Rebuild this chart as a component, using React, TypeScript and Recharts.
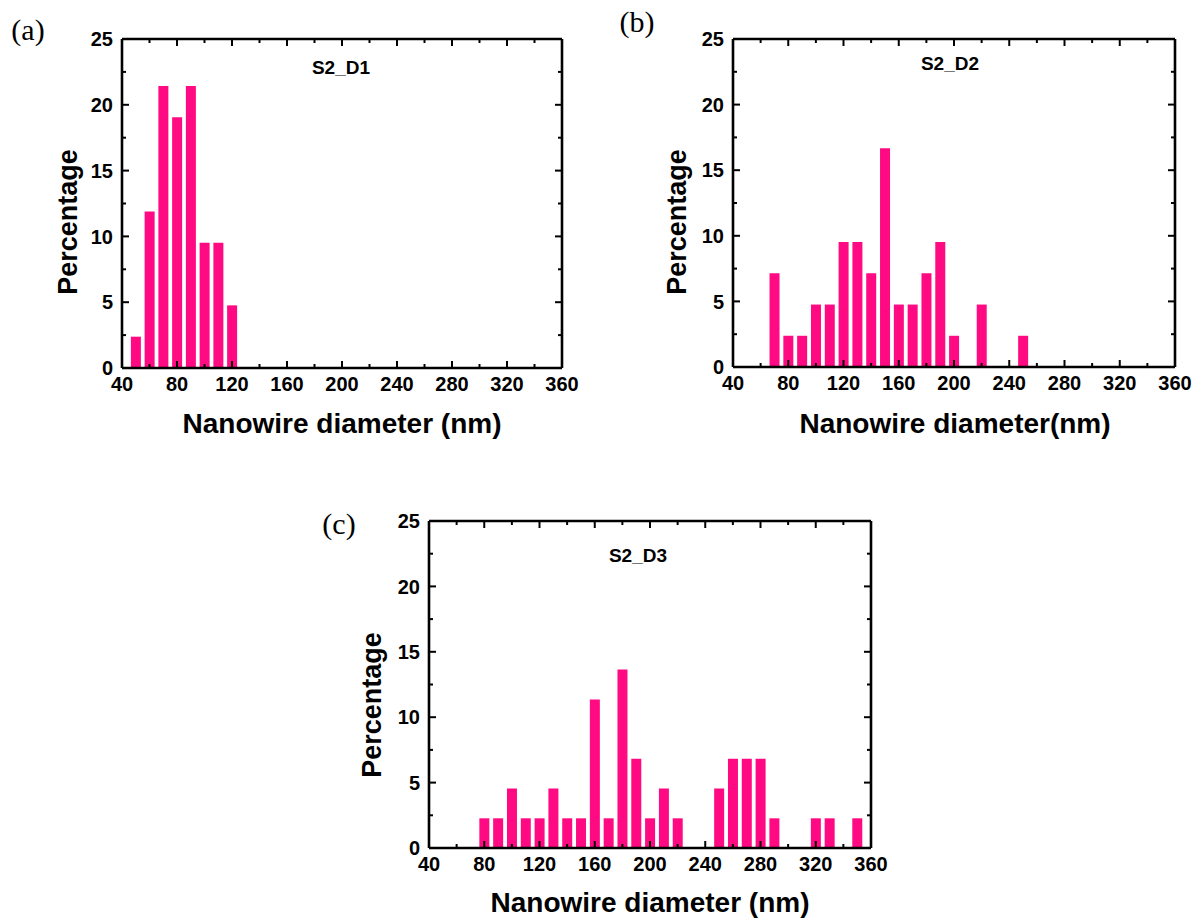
import { Bar, BarChart, XAxis, YAxis } from 'recharts';

// axis ticks (minor every 20 nm / 2.5 %, labels on the majors)
const X_TICKS = [40, 60, 80, 100, 120, 140, 160, 180, 200, 220, 240, 260, 280, 300, 320, 340, 360];
const X_LABELS = [40, 80, 120, 160, 200, 240, 280, 320, 360];
const Y_TICKS = [0, 2.5, 5, 7.5, 10, 12.5, 15, 17.5, 20, 22.5, 25];
const Y_LABELS = [0, 5, 10, 15, 20, 25];

// S2_D1
const D1_DIAM = [50, 60, 70, 80, 90, 100, 110, 120];
const D1_PCT = [2.38, 11.9, 21.43, 19.05, 21.43, 9.52, 9.52, 4.76];

// S2_D2
const D2_DIAM = [70, 80, 90, 100, 110, 120, 130, 140, 150, 160, 170, 180, 190, 200, 220, 250];
const D2_PCT = [7.14, 2.38, 2.38, 4.76, 4.76, 9.52, 9.52, 7.14, 16.67, 4.76, 4.76, 7.14, 9.52, 2.38, 4.76, 2.38];

// S2_D3
const D3_DIAM = [80, 90, 100, 110, 120, 130, 140, 150, 160, 170, 180, 190, 200, 210, 220, 250, 260, 270, 280, 290, 320, 330, 350];
const D3_PCT = [
  2.27, 2.27, 4.55, 2.27, 2.27, 4.55, 2.27, 2.27, 11.36, 2.27, 13.64, 6.82, 2.27, 4.55, 2.27, 4.55, 6.82, 6.82, 6.82, 2.27,
  2.27, 2.27, 2.27,
];

const PINK = '#ff0a82';
const SANS = '"Liberation Sans", Arial, sans-serif';
const SERIF = '"Liberation Serif", "Times New Roman", serif';

const ML = 70; // left axis width
const MT = 14;
const MR = 30;
const MB = 44; // bottom axis height
const GAP_X = 8;
const GAP_Y = 9;
const MAJOR = 7;
const MINOR = 4;
const AXIS = { stroke: '#000', strokeWidth: 2.6 };

const tickText = { fontFamily: SANS, fontWeight: 700, fontSize: 20, fill: '#000' };

function BottomTick(p: any) {
  const v = p.payload.value;
  const major = X_LABELS.includes(v);
  const y0 = p.y - GAP_X;
  return (
    <g>
      <line x1={p.x} x2={p.x} y1={y0} y2={y0 - (major ? MAJOR : MINOR)} stroke="#000" strokeWidth={2} />
      {major ? (
        <text x={p.x} y={p.y} dy="0.75em" textAnchor="middle" {...tickText}>
          {v}
        </text>
      ) : null}
    </g>
  );
}

function TopTick(p: any) {
  const major = X_LABELS.includes(p.payload.value);
  return <line x1={p.x} x2={p.x} y1={p.y} y2={p.y + (major ? MAJOR : MINOR)} stroke="#000" strokeWidth={2} />;
}

function LeftTick(p: any) {
  const v = p.payload.value;
  const major = Y_LABELS.includes(v);
  const x0 = p.x + GAP_Y;
  return (
    <g>
      <line x1={x0} x2={x0 + (major ? MAJOR : MINOR)} y1={p.y} y2={p.y} stroke="#000" strokeWidth={2} />
      {major ? (
        <text x={p.x} y={p.y} dy="0.36em" textAnchor="end" {...tickText}>
          {v}
        </text>
      ) : null}
    </g>
  );
}

function RightTick(p: any) {
  const major = Y_LABELS.includes(p.payload.value);
  return <line x1={p.x} x2={p.x - (major ? MAJOR : MINOR)} y1={p.y} y2={p.y} stroke="#000" strokeWidth={2} />;
}

function Label(props: { x: number; y: number; text: string; size: number; rotate?: boolean; serif?: boolean }) {
  return (
    <div
      style={{
        position: 'absolute',
        left: props.x,
        top: props.y,
        transform: `translate(-50%, -50%)${props.rotate ? ' rotate(-90deg)' : ''}`,
        fontFamily: props.serif ? SERIF : SANS,
        fontWeight: props.serif ? 400 : 700,
        fontSize: props.size,
        whiteSpace: 'nowrap',
        lineHeight: 1,
        color: '#000',
      }}
    >
      {props.text}
    </div>
  );
}

function Panel(props: { diam: number[]; pct: number[]; x: number; y: number; w: number; h: number }) {
  const rows = props.diam.map((d, i) => ({ d, p: props.pct[i] }));
  return (
    <div style={{ position: 'absolute', left: props.x - ML, top: props.y - MT }}>
      <BarChart
        width={props.w + ML + MR}
        height={props.h + MT + MB}
        data={rows}
        margin={{ top: MT - 1, right: MR - 1, left: 0, bottom: 0 }}
      >
        <XAxis
          dataKey="d"
          type="number"
          domain={[40, 360]}
          allowDataOverflow
          ticks={X_TICKS}
          interval={0}
          height={MB}
          tickSize={0}
          tickMargin={GAP_X}
          tickLine={false}
          axisLine={AXIS}
          tick={(p: any) => <BottomTick {...p} />}
        />
        <XAxis
          xAxisId="top"
          orientation="top"
          dataKey="d"
          type="number"
          domain={[40, 360]}
          allowDataOverflow
          ticks={X_TICKS}
          interval={0}
          height={1}
          tickSize={0}
          tickMargin={0}
          tickLine={false}
          axisLine={AXIS}
          tick={(p: any) => <TopTick {...p} />}
        />
        <YAxis
          type="number"
          domain={[0, 25]}
          allowDataOverflow
          ticks={Y_TICKS}
          interval={0}
          width={ML}
          tickSize={0}
          tickMargin={GAP_Y}
          tickLine={false}
          axisLine={AXIS}
          tick={(p: any) => <LeftTick {...p} />}
        />
        <YAxis
          yAxisId="right"
          orientation="right"
          type="number"
          domain={[0, 25]}
          allowDataOverflow
          ticks={Y_TICKS}
          interval={0}
          width={1}
          tickSize={0}
          tickMargin={0}
          tickLine={false}
          axisLine={AXIS}
          tick={(p: any) => <RightTick {...p} />}
        />
        <Bar dataKey="p" fill={PINK} barSize={10} isAnimationActive={false} />
      </BarChart>
    </div>
  );
}

export default function App() {
  return (
    <div style={{ position: 'absolute', left: 0, top: 0, width: 1198, height: 919, background: '#fff' }}>
      <Panel diam={D1_DIAM} pct={D1_PCT} x={122} y={39} w={440} h={329} />
      <Panel diam={D2_DIAM} pct={D2_PCT} x={733} y={39} w={442} h={328} />
      <Panel diam={D3_DIAM} pct={D3_PCT} x={429} y={521} w={442} h={327} />

      <Label x={28} y={30} text="(a)" size={30} serif />
      <Label x={637} y={22} text="(b)" size={30} serif />
      <Label x={339} y={524} text="(c)" size={30} serif />

      <Label x={341} y={67} text="S2_D1" size={19} />
      <Label x={950} y={63} text="S2_D2" size={19} />
      <Label x={638} y={555} text="S2_D3" size={19} />

      <Label x={68} y={222} text="Percentage" size={27} rotate />
      <Label x={677} y={222} text="Percentage" size={27} rotate />
      <Label x={372} y={705} text="Percentage" size={27} rotate />

      <Label x={342} y={424} text="Nanowire diameter (nm)" size={28} />
      <Label x={955} y={424} text="Nanowire diameter(nm)" size={28} />
      <Label x={650} y={903} text="Nanowire diameter (nm)" size={28} />
    </div>
  );
}
